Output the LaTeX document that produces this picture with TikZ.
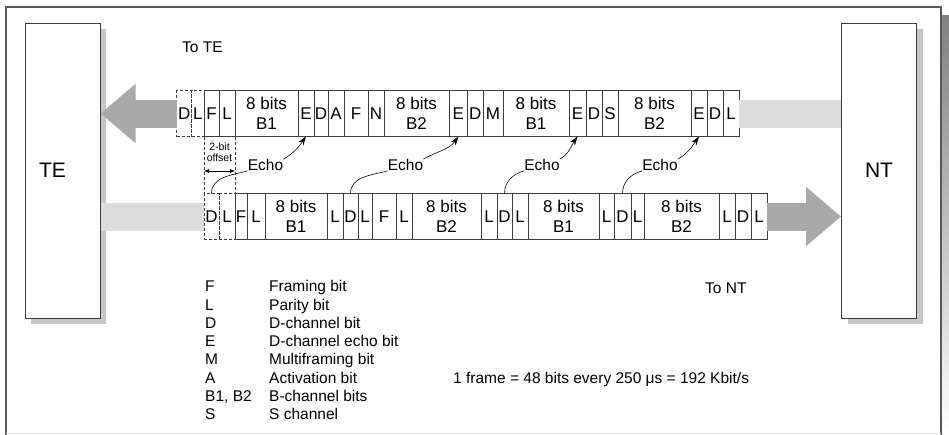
\documentclass[tikz,border=0pt]{standalone}
\usepackage{fontspec}
\setmainfont{Liberation Sans}
\usetikzlibrary{arrows.meta,positioning,calc,shadows}
\definecolor{edge}{HTML}{3C3C3C}
\definecolor{darkbar}{HTML}{A9A9A9}
\definecolor{lightbar}{HTML}{DCDCDC}
\definecolor{shade}{HTML}{C6C6C6}
\tikzset{%
  % cells
  bit/.style={draw=edge, line width=0.8pt, minimum height=46, inner sep=0pt, outer sep=0pt,
    align=center, font=\fontsize{17}{20}\selectfont},
  ghost/.style={bit, dash pattern=on 3pt off 2pt},
  station/.style={draw=edge, line width=1pt, fill=white, minimum width=75, minimum height=295,
    drop shadow={shadow xshift=6pt, shadow yshift=-6pt, fill=shade, opacity=1}},
  big/.style={font=\fontsize{21}{25}\selectfont},
  % edge styles
  fat/.style={line width=28pt, darkbar, -{Triangle[width=57pt, length=35pt]}},
  bar/.style={line width=28pt, lightbar},
  echo/.style={line width=0.6pt, -{Stealth[length=9pt, width=6pt]}},
  tie/.style={line width=0.6pt},
  span/.style={line width=0.6pt, {Latex[length=5pt, width=4pt]}-{Latex[length=5pt, width=4pt]}},
  ghostline/.style={draw=edge, line width=0.8pt, dash pattern=on 3pt off 2pt},
  txt/.style={font=\fontsize{15.5}{19}\selectfont, inner sep=0pt},
  tiny/.style={font=\fontsize{10.5}{11}\selectfont, inner sep=0pt, align=center},
}
\begin{document}
\begin{tikzpicture}[x=1pt, y=-1pt]
  \useasboundingbox (0,0) rectangle (949,434);
  % outer panel
  \fill[shade] (942,15) rectangle (949,434);
  \draw[draw=edge!85, line width=1.2pt] (6,440) -- (6,7) -- (941,7) -- (941,440);
  \draw[lightbar!70, line width=0.6pt] (6,433) -- (941,433);

  % stations
  \node[station, label={[big, xshift=-10pt]center:TE}] (TE) at (62.5,170.5) {};
  \node[station, big] (NT) at (879,170.5) {NT};

  % To TE
  \node[ghost, minimum width=15, anchor=west] (tD) at (176.7,113.5) {D};
  \node[ghost, minimum width=12.3, right=0pt of tD] (t0) {L};
  \foreach \w/\t [count=\i, remember=\i as \p (initially 0)] in {15/F, 16/L, 63/{8 bits\\B1},
      16/E, 14/D, 16/A, 24/F, 16/N, 65/{8 bits\\B2}, 18.7/E, 15.3/D, 20/M, 66/{8 bits\\B1},
      17/E, 16/D, 16/S, 73/{8 bits\\B2}, 16/E, 16/D, 16/L}
    \node[bit, minimum width=\w, right=0pt of t\p] (t\i) {\t};

  % To NT (2-bit offset)
  \node[ghost, minimum width=15, below right=57pt and 0pt of t0.south east] (bD) {D};
  \node[ghost, minimum width=16, right=0pt of bD] (b0) {L};
  \foreach \w/\t [count=\i, remember=\i as \p (initially 0)] in {12/F, 18/L, 62/{8 bits\\B1},
      16/L, 15/D, 14/L, 24/F, 16/L, 69/{8 bits\\B2}, 16/L, 15/D, 16/L, 71/{8 bits\\B1},
      15/L, 17/D, 13/L, 75/{8 bits\\B2}, 16/L, 16/D, 16/L}
    \node[bit, minimum width=\w, right=0pt of b\p] (b\i) {\t};

  % line flow
  \draw[fat] (tD.west) -- (tD.west -| TE.east);
  \draw[bar] (t20.east) -- (t20.east -| NT.west);
  \draw[bar] (bD.west -| TE.east) -- (bD.west);
  \draw[fat] (b20.east) -- (b20.east -| NT.west);

  % offset
  \draw[ghostline] (t0.south east) -- (bD.north west);
  \draw[ghostline] (t2.south east) -- (b0.north east);
  \node[tiny] (offset) at (219.5,152) {2-bit\\offset};
  \draw[span] ($(t0.south east)+(0,34.5)$) -- ($(t2.south east)+(0,34.5)$);

  % echoes
  \node[txt] (e1) at (265.5,165) {Echo};
  \node[txt] (e2) at (405.5,165) {Echo};
  \node[txt] (e3) at (542,165) {Echo};
  \node[txt] (e4) at (660,165) {Echo};
  \draw[echo] (e1.north east) to[out=30, in=-125] (t4.south);
  \draw[echo] (e2.north east) to[out=30, in=-125] (t10.south);
  \draw[echo] (e3.north east) to[out=30, in=-125] (t14.south);
  \draw[echo] (e4.north east) to[out=30, in=-125] (t18.south);
  \draw[tie] (e1.south west) to[out=195, in=90] (bD.north);
  \draw[tie] (e2.south west) to[out=195, in=90] (b5.north);
  \draw[tie] (e3.south west) to[out=195, in=90] (b11.north);
  \draw[tie] (e4.south west) to[out=195, in=90] (b15.north);

  % labels
  \node[txt, anchor=base west] (toTE) at (182,52) {To TE};
  \node[txt, anchor=base west] (toNT) at (705,293) {To NT};
  \node[txt, anchor=base west] (rate) at (453,383) {1 frame = 48 bits every 250 μs = 192 Kbit/s};
  \foreach \k/\d [count=\i] in {F/Framing bit, L/Parity bit, D/D-channel bit, E/D-channel echo bit,
      M/Multiframing bit, A/Activation bit, {B1, B2}/B-channel bits, S/S channel} {
    \node[txt, anchor=base west] (key\i) at (205,273.4+18.3*\i) {\k};
    \node[txt, anchor=base west] (desc\i) at (269,273.4+18.3*\i) {\d};
  }
\end{tikzpicture}
\end{document}
